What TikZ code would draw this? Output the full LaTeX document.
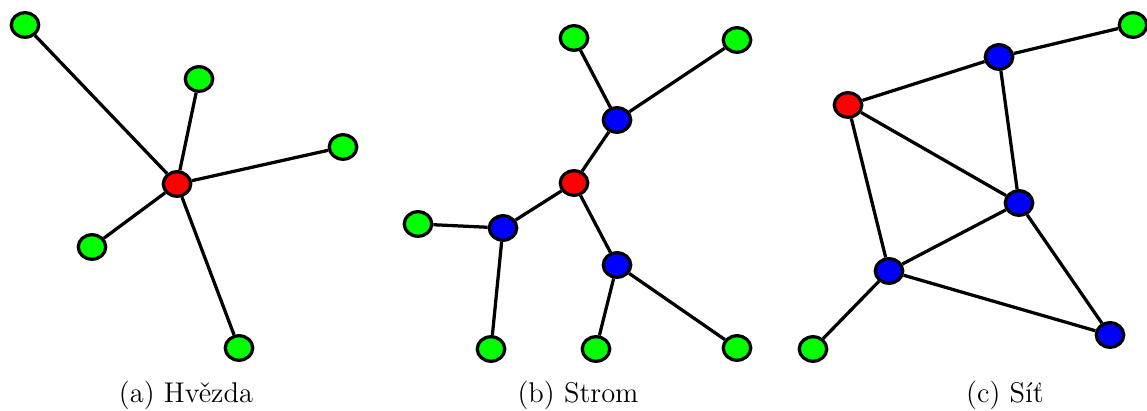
\documentclass[tikz,border=0pt]{standalone}
\usepackage{tikz}
\usetikzlibrary{shapes.geometric}
\tikzstyle{leaf} = [ellipse, draw=black, line width=1.3pt, fill=green, minimum width=11pt, minimum height=9.8pt, inner sep=0pt]
\tikzstyle{hub} = [ellipse, draw=black, line width=1.3pt, fill=red, minimum width=11pt, minimum height=9.8pt, inner sep=0pt]
\tikzstyle{relay} = [ellipse, draw=black, line width=1.3pt, fill=blue, minimum width=11pt, minimum height=9.8pt, inner sep=0pt]
\tikzstyle{edge} = [line width=1.3pt]
\tikzstyle{caption} = [font=\fontsize{11.4}{13}\selectfont]

\begin{document}
\begin{tikzpicture}[x=0.4pt, y=-0.4pt]
        \useasboundingbox (0,0) rectangle (1147,411);

        % (a) star
        \node (a0) [hub] at (177,184) {};
        \node (a1) [leaf] at (25,25) {};
        \node (a2) [leaf] at (199,79) {};
        \node (a3) [leaf] at (343,147) {};
        \node (a4) [leaf] at (92,247) {};
        \node (a5) [leaf] at (239,348) {};

        % (b) tree
        \node (b0) [hub] at (574,183) {};
        \node (b1) [relay] at (617,120) {};
        \node (b2) [relay] at (503,228) {};
        \node (b3) [relay] at (617,265) {};
        \node (b4) [leaf] at (574,38) {};
        \node (b5) [leaf] at (737,40) {};
        \node (b6) [leaf] at (418,224) {};
        \node (b7) [leaf] at (491,349) {};
        \node (b8) [leaf] at (596,349) {};
        \node (b9) [leaf] at (737,348) {};

        % (c) mesh
        \node (c0) [hub] at (848,105) {};
        \node (c1) [relay] at (999,57) {};
        \node (c2) [relay] at (1019,203) {};
        \node (c3) [relay] at (889,271) {};
        \node (c4) [relay] at (1110,335) {};
        \node (c5) [leaf] at (1133,25) {};
        \node (c6) [leaf] at (813,349) {};

        % Edges
        \draw [edge] (a0) -- (a1);
        \draw [edge] (a0) -- (a2);
        \draw [edge] (a0) -- (a3);
        \draw [edge] (a0) -- (a4);
        \draw [edge] (a0) -- (a5);

        \draw [edge] (b0) -- (b1);
        \draw [edge] (b1) -- (b4);
        \draw [edge] (b1) -- (b5);
        \draw [edge] (b0) -- (b2);
        \draw [edge] (b2) -- (b6);
        \draw [edge] (b2) -- (b7);
        \draw [edge] (b0) -- (b3);
        \draw [edge] (b3) -- (b8);
        \draw [edge] (b3) -- (b9);

        \draw [edge] (c0) -- (c1);
        \draw [edge] (c1) -- (c5);
        \draw [edge] (c1) -- (c2);
        \draw [edge] (c0) -- (c2);
        \draw [edge] (c0) -- (c3);
        \draw [edge] (c3) -- (c2);
        \draw [edge] (c2) -- (c4);
        \draw [edge] (c3) -- (c4);
        \draw [edge] (c3) -- (c6);

        % Captions
        \node (capa) [caption] at (186,395) {(a) Hvězda};
        \node (capb) [caption] at (578,395) {(b) Strom};
        \node (capc) [caption] at (1005,395) {(c) Síť};

\end{tikzpicture}
\end{document}
